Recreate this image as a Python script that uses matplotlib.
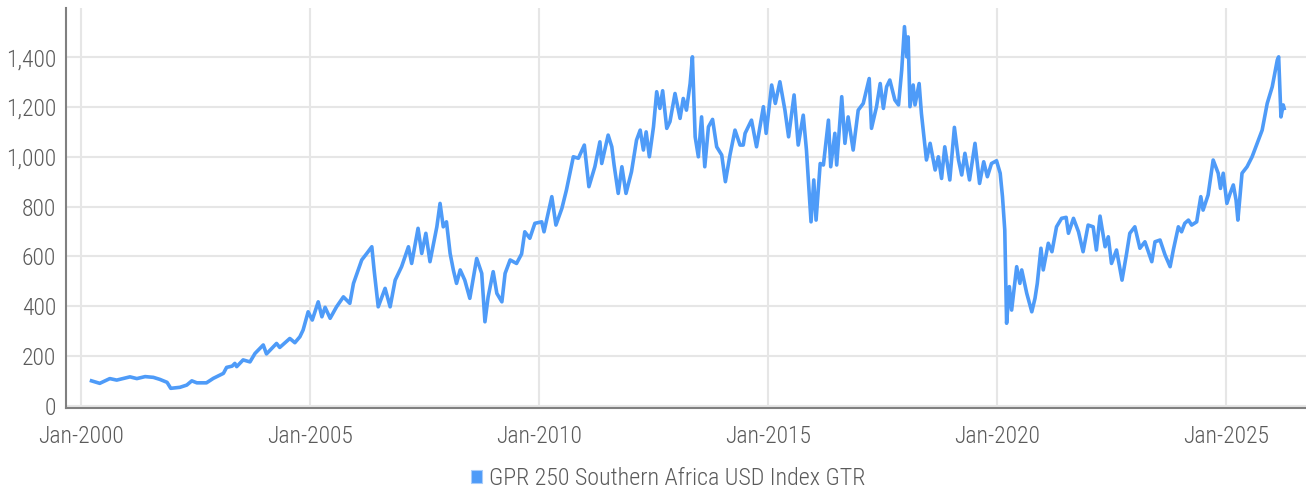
import matplotlib
matplotlib.use("Agg")
import matplotlib.pyplot as plt
from matplotlib import font_manager
from matplotlib.patches import Patch

# Index level (decimal year, value)
years = [
    2000.23, 2000.30, 2000.41, 2000.63, 2000.78, 2001.07, 2001.22, 2001.40, 2001.58, 2001.72,
    2001.88, 2001.96, 2002.16, 2002.31, 2002.42, 2002.53, 2002.74, 2002.89, 2003.11, 2003.18,
    2003.30, 2003.36, 2003.40, 2003.54, 2003.69, 2003.80, 2003.98, 2004.05, 2004.27, 2004.34,
    2004.56, 2004.67, 2004.78, 2004.85, 2004.96, 2005.05, 2005.18, 2005.26, 2005.33, 2005.44,
    2005.58, 2005.73, 2005.87, 2005.95, 2006.13, 2006.24, 2006.35, 2006.40, 2006.49, 2006.64,
    2006.75, 2006.86, 2007.00, 2007.15, 2007.22, 2007.36, 2007.44, 2007.53, 2007.62, 2007.77,
    2007.84, 2007.91, 2007.98, 2008.06, 2008.13, 2008.20, 2008.28, 2008.38, 2008.49, 2008.64,
    2008.75, 2008.82, 2008.89, 2009.00, 2009.08, 2009.19, 2009.26, 2009.37, 2009.51, 2009.62,
    2009.69, 2009.80, 2009.91, 2010.06, 2010.11, 2010.28, 2010.37, 2010.50, 2010.60, 2010.75,
    2010.86, 2010.99, 2011.09, 2011.22, 2011.33, 2011.37, 2011.51, 2011.59, 2011.64, 2011.73,
    2011.81, 2011.90, 2012.02, 2012.13, 2012.21, 2012.28, 2012.34, 2012.41, 2012.50, 2012.57,
    2012.64, 2012.70, 2012.79, 2012.86, 2012.97, 2013.08, 2013.15, 2013.22, 2013.30, 2013.35,
    2013.41, 2013.48, 2013.55, 2013.62, 2013.70, 2013.79, 2013.88, 2013.99, 2014.07, 2014.17,
    2014.28, 2014.39, 2014.46, 2014.50, 2014.64, 2014.75, 2014.90, 2014.96, 2015.08, 2015.16,
    2015.26, 2015.37, 2015.45, 2015.57, 2015.66, 2015.77, 2015.84, 2015.94, 2016.00, 2016.05,
    2016.14, 2016.21, 2016.32, 2016.37, 2016.46, 2016.50, 2016.61, 2016.68, 2016.75, 2016.86,
    2016.97, 2017.08, 2017.14, 2017.21, 2017.26, 2017.37, 2017.45, 2017.52, 2017.59, 2017.66,
    2017.77, 2017.85, 2017.92, 2017.98, 2018.03, 2018.06, 2018.10, 2018.17, 2018.21, 2018.30,
    2018.35, 2018.46, 2018.54, 2018.65, 2018.72, 2018.79, 2018.86, 2018.97, 2019.07, 2019.16,
    2019.23, 2019.30, 2019.40, 2019.52, 2019.62, 2019.71, 2019.79, 2019.88, 2019.99, 2020.07,
    2020.12, 2020.17, 2020.21, 2020.27, 2020.32, 2020.43, 2020.50, 2020.54, 2020.65, 2020.76,
    2020.83, 2020.88, 2020.96, 2021.01, 2021.12, 2021.20, 2021.30, 2021.41, 2021.51, 2021.56,
    2021.67, 2021.78, 2021.88, 2021.99, 2022.10, 2022.17, 2022.25, 2022.36, 2022.43, 2022.50,
    2022.61, 2022.73, 2022.83, 2022.90, 2023.01, 2023.12, 2023.23, 2023.38, 2023.45, 2023.56,
    2023.67, 2023.78, 2023.85, 2023.96, 2024.03, 2024.10, 2024.18, 2024.25, 2024.36, 2024.45,
    2024.50, 2024.61, 2024.72, 2024.83, 2024.88, 2024.94, 2025.02, 2025.09, 2025.16, 2025.22,
    2025.26, 2025.35, 2025.46, 2025.57, 2025.68, 2025.79, 2025.90, 2026.01, 2026.12, 2026.15,
    2026.20, 2026.25, 2026.27,
]
index_values = [
    101, 97, 91, 110, 104, 117, 110, 118, 115, 107,
    95, 71, 75, 84, 101, 93, 93, 111, 131, 155,
    160, 171, 158, 185, 177, 211, 245, 209, 251, 235,
    271, 254, 278, 305, 378, 345, 418, 358, 396, 352,
    398, 438, 412, 492, 586, 612, 639, 546, 398, 472,
    398, 505, 559, 639, 572, 713, 612, 693, 579, 719,
    813, 719, 739, 612, 546, 492, 546, 505, 432, 592,
    532, 338, 438, 539, 452, 418, 532, 586, 572, 610,
    699, 673, 733, 739, 699, 840, 726, 793, 867, 1000,
    994, 1047, 880, 960, 1060, 973, 1087, 1040, 967, 853,
    960, 853, 940, 1067, 1107, 1027, 1100, 1000, 1120, 1261,
    1194, 1265, 1114, 1141, 1254, 1154, 1234, 1187, 1294, 1401,
    1080, 1000, 1160, 960, 1120, 1150, 1040, 1007, 900, 1007,
    1107, 1047, 1047, 1094, 1147, 1040, 1201, 1094, 1288, 1214,
    1301, 1187, 1080, 1248, 1047, 1167, 1027, 739, 907, 746,
    973, 967, 1147, 960, 1094, 967, 1241, 1054, 1160, 1027,
    1187, 1214, 1261, 1314, 1114, 1201, 1294, 1194, 1281, 1308,
    1228, 1208, 1348, 1522, 1401, 1481, 1201, 1288, 1208, 1294,
    1174, 987, 1054, 947, 1000, 913, 1040, 907, 1118, 987,
    927, 1014, 907, 1054, 893, 980, 920, 973, 984, 934,
    840, 706, 332, 479, 385, 559, 492, 546, 452, 378,
    432, 492, 633, 546, 653, 619, 719, 753, 757, 693,
    753, 699, 619, 726, 719, 626, 762, 639, 679, 572,
    626, 505, 612, 693, 719, 633, 659, 579, 659, 666,
    606, 559, 626, 719, 699, 733, 746, 726, 739, 840,
    786, 847, 987, 934, 873, 934, 813, 853, 887, 826,
    746, 934, 960, 1000, 1054, 1107, 1214, 1281, 1388, 1401,
    1160, 1208, 1194,
]

tick_years = [2000, 2005, 2010, 2015, 2020, 2025]
tick_labels = ["Jan-2000", "Jan-2005", "Jan-2010", "Jan-2015", "Jan-2020", "Jan-2025"]
y_ticks = [0, 200, 400, 600, 800, 1000, 1200, 1400]
series_name = "GPR 250 Southern Africa USD Index GTR"

# pick a narrow font if one is installed
installed = {f.name for f in font_manager.fontManager.ttflist}
font = "DejaVu Sans"
for fam in ["Roboto Condensed", "Liberation Sans Narrow", "Roboto"]:
    if fam in installed:
        font = fam
        break
plt.rcParams["font.family"] = [font, "DejaVu Sans"]
plt.rcParams["font.weight"] = "light"

line_color = "#4e9bf8"
text_color = "#5a5a5a"
grid_color = "#e6e6e6"

fig = plt.figure(figsize=(13.06, 4.93), dpi=100)
ax = fig.add_axes([0.0505, 0.1724, 0.9495, 0.8114])

ax.plot(years, index_values, color=line_color, lw=2.6, solid_joinstyle="round")

ax.set_xlim(1999.672, 2026.747)
ax.set_ylim(-8, 1597)
ax.set_xticks(tick_years)
ax.set_xticklabels(tick_labels)
ax.set_yticks(y_ticks)
ax.set_yticklabels([f"{v:,}" for v in y_ticks])

ax.grid(True, color=grid_color, lw=1.5)
ax.set_axisbelow(True)
for side in ["top", "right"]:
    ax.spines[side].set_visible(False)
for side in ["left", "bottom"]:
    ax.spines[side].set_color("#808080")
    ax.spines[side].set_linewidth(1.5)

ax.tick_params(axis="both", length=0, labelsize=17, labelcolor=text_color)
ax.tick_params(axis="x", pad=12)
ax.tick_params(axis="y", pad=7)

handle = Patch(facecolor=line_color, edgecolor="#a9cdfb", lw=0.8)
fig.legend([handle], [series_name], loc="center", bbox_to_anchor=(0.512, 0.030),
           frameon=False, fontsize=17.3, labelcolor=text_color,
           handlelength=0.45, handleheight=0.45, handletextpad=0.3)

fig.savefig("out.png", dpi=100)
